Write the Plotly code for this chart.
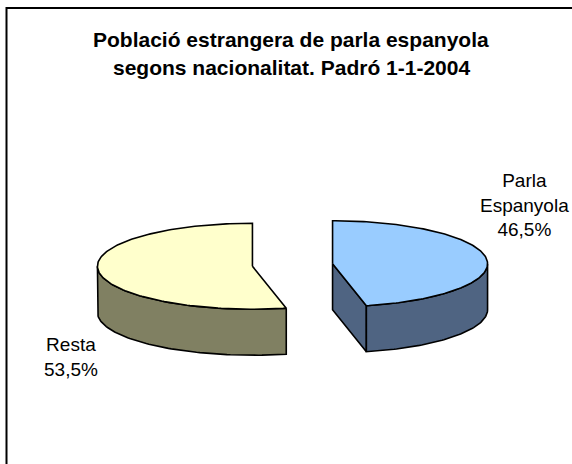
import numpy as np
import plotly.graph_objects as go

# ---- data ----
categories = ["Parla Espanyola", "Resta"]
values = [46.5, 53.5]
value_labels = ["46,5%", "53,5%"]
label_lines = [["Parla", "Espanyola"], ["Resta"]]
top_colors = ["#99CCFF", "#FFFFCC"]
side_colors = ["#4F6482", "#808062"]
title_lines = ["Població estrangera de parla espanyola",
               "segons nacionalitat. Padró 1-1-2004"]

# ---- geometry / style ----
W, H = 572, 464
CX, CY = 292.5, 265.0      # pie centre (px)
RX, RY = 155.0, 43.0       # ellipse radii of top face (px)
DEPTH = 46.0               # thickness (px)
EXPLODE = 0.26             # explosion as fraction of radius
FONT = "Liberation Sans, Arial, sans-serif"
label_pos = [(524, 205), (71, 357)]
title_pos = [(291, 39), (291, 67)]

fig = go.Figure()
total = float(sum(values))


def xy(ox, oy, deg, dz=0.0):
    t = np.radians(deg)
    return ox + RX * np.sin(t), oy - RY * np.cos(t) + dz


def add_poly(xs, ys, color):
    xs = list(xs) + [xs[0]]
    ys = list(ys) + [ys[0]]
    fig.add_trace(go.Scatter(x=xs, y=ys, mode="lines", fill="toself",
                             fillcolor=color,
                             line=dict(color="black", width=1.6),
                             hoverinfo="skip", showlegend=False))


sides, tops = [], []
start = 0.0
for i, v in enumerate(values):
    sweep = 360.0 * v / total
    a0, a1 = start, start + sweep
    mid = np.radians((a0 + a1) / 2)
    ox = CX + EXPLODE * RX * np.sin(mid)
    oy = CY - EXPLODE * RY * np.cos(mid)

    # visible radial faces
    for ang, nrm in ((a0, a0 - 90), (a1, a1 + 90)):
        if -np.cos(np.radians(nrm)) > 1e-6:
            ex, ey = xy(ox, oy, ang)
            sides.append(([ox, ex, ex, ox], [oy, ey, ey + DEPTH, oy + DEPTH],
                          side_colors[i]))

    # visible outer wall (front half 90..270)
    w0, w1 = max(a0, 90.0), min(a1, 270.0)
    if w1 > w0:
        angs = np.linspace(w0, w1, 80)
        px, py = xy(ox, oy, angs)
        xs = list(px) + list(px[::-1])
        ys = list(py) + list((py + DEPTH)[::-1])
        sides.append((xs, ys, side_colors[i]))

    # top face
    angs = np.linspace(a0, a1, 160)
    px, py = xy(ox, oy, angs)
    tops.append(([ox] + list(px), [oy] + list(py), top_colors[i]))
    start = a1

for xs, ys, c in sides + tops:
    add_poly(xs, ys, c)

# slice labels
for i, (lx, ly) in enumerate(label_pos):
    txt = "<br>".join(label_lines[i] + [value_labels[i]])
    fig.add_annotation(x=lx, y=ly, xref="x", yref="y", text=txt,
                       showarrow=False, align="center",
                       font=dict(family=FONT, size=19, color="black"))

# title
for line, (tx, ty) in zip(title_lines, title_pos):
    fig.add_annotation(x=tx, y=ty, xref="x", yref="y", text="<b>" + line + "</b>",
                       showarrow=False,
                       font=dict(family=FONT, size=21, color="black"))

# chart frame
fig.add_shape(type="rect", xref="paper", yref="paper",
              x0=6.5 / W, x1=1.05, y0=-0.05, y1=1 - 8 / H,
              line=dict(color="black", width=2), layer="above")

fig.update_layout(
    width=W, height=H, margin=dict(l=0, r=0, t=0, b=0),
    paper_bgcolor="white", plot_bgcolor="white",
    xaxis=dict(range=[0, W], visible=False, fixedrange=True),
    yaxis=dict(range=[H, 0], visible=False, fixedrange=True),
    showlegend=False,
)

fig.write_html("out.html",
               config={"displayModeBar": False, "staticPlot": True},
               post_script="document.body.style.margin='0';document.body.style.overflow='hidden';")
